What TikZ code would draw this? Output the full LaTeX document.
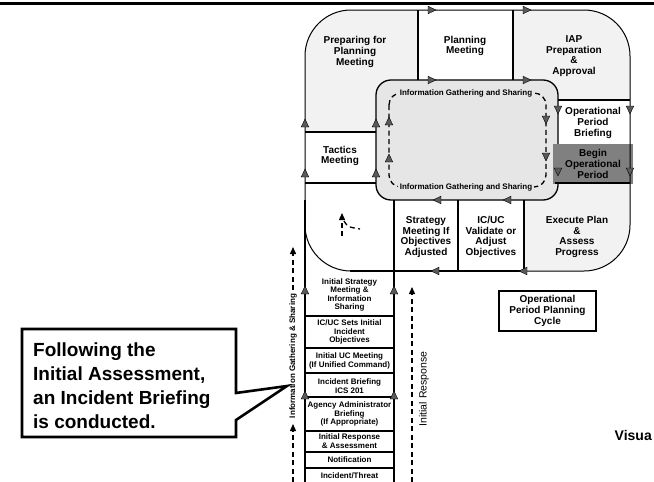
\documentclass[tikz,border=0pt]{standalone}
\usepackage{fontspec}
\setmainfont{Liberation Sans}
\usetikzlibrary{arrows.meta}
\definecolor{outerfill}{HTML}{F2F2F2}
\definecolor{innerfill}{HTML}{E6E6E6}
\definecolor{darkbox}{HTML}{808080}
\definecolor{trifill}{HTML}{5A5A5A}
\begin{document}
\begin{tikzpicture}[x=1pt,y=-1pt,
  lbl/.style={font=\fontsize{10}{10.8}\selectfont\bfseries, align=center, inner sep=0pt},
  sm/.style={font=\fontsize{8}{8.6}\selectfont\bfseries, align=center, inner sep=0pt},
  igs/.style={font=\fontsize{8}{9}\selectfont\bfseries, inner sep=1.3pt, fill=innerfill},
  boxline/.style={line width=1.5pt, draw=black},
  dline/.style={line width=1.3pt, dash pattern=on 5pt off 3.5pt},
  darrow/.style={dline, -{Triangle[length=7pt,width=6pt]}},
  tri/.pic={\filldraw[fill=trifill,draw=black,line width=0.4pt] (-4,-3.8) -- (4,0) -- (-4,3.8) -- cycle;}
]
\useasboundingbox (0,0) rectangle (654,482);
\draw[line width=3.5pt] (0,3.3) -- (654,3.3);

% fills of the cycle
\begin{scope}
  \clip[rounded corners=46pt] (305,10) rectangle (630,271);
  \fill[outerfill] (300,5) rectangle (640,280);
  \fill[white] (418,10) rectangle (513,80);
  \fill[white] (305,132) rectangle (376,183);
  \fill[white] (558,100) rectangle (630,145);
  \fill[white] (305,183) rectangle (524,271);
\end{scope}
\draw[line width=1.3pt, fill=innerfill, rounded corners=15pt] (376,80) rectangle (558,200);
\fill[darkbox] (553,144) rectangle (633,184);

% box lines
\draw[boxline] (418,10) -- (418,80);
\draw[boxline] (513,10) -- (513,80);
\draw[boxline] (558,100) -- (630,100);
\draw[boxline] (305,132) -- (376,132);
\draw[boxline] (305,183) -- (376,183);
\draw[boxline] (555,183) -- (630,183);
\draw[boxline] (394,200) -- (394,482);
\draw[boxline] (458,200) -- (458,271);
\draw[boxline] (524,200) -- (524,271);
\draw[boxline] (305,200) -- (305,482);
\draw[boxline] (350,271) -- (524,271);
\foreach \yy in {316,348,373,397,431,452,468} \draw[boxline] (305,\yy) -- (394,\yy);
\draw[line width=1pt, rounded corners=46pt] (305,10) rectangle (630,271);

% inner dashed loop
\draw[dline, rounded corners=12pt] (389,93) rectangle (546,187);
\node[igs] (igstop) at (466,93) {Information Gathering and Sharing};
\node[igs] (igsbot) at (466,187) {Information Gathering and Sharing};

% flow triangles
\foreach \p in {(432,10),(527,10),(432,80),(527,80)} \pic at \p {tri};
\foreach \p in {(630,110),(630,172),(558,110),(558,172),(546,120),(546,157)} \pic[rotate=-90] at \p {tri};
\foreach \p in {(305,123),(305,173),(376,123),(376,173),(389,121),(389,158),(305,290),(394,290),(305,395),(394,395)} \pic[rotate=90] at \p {tri};
\foreach \p in {(437,200),(507,200),(435,271),(523,271)} \pic[rotate=180] at \p {tri};

% labels of the cycle
\node[lbl] (prep) at (355,52) {Preparing for\\Planning\\Meeting};
\node[lbl] (plan) at (465,46) {Planning\\Meeting};
\node[lbl] (iap) at (574,56) {IAP\\Preparation\\\&\\Approval};
\node[lbl] (opbrief) at (593,123) {Operational\\Period\\Briefing};
\node[lbl] (beginop) at (593,164) {Begin\\Operational\\Period};
\node[lbl] (tactics) at (340,156) {Tactics\\Meeting};
\node[lbl] (strat) at (426,237) {Strategy\\Meeting If\\Objectives\\Adjusted};
\node[lbl] (icuc) at (491,237) {IC/UC\\Validate or\\Adjust\\Objectives};
\node[lbl] (exec) at (577,237) {Execute Plan\\\&\\Assess\\Progress};

% lower-left quadrant marks
\coordinate (qa) at (342,236);
\coordinate (qb) at (342,213);
\draw[darrow] (qa) -- (qb);
\coordinate (qc) at (344,221);
\coordinate (qd) at (360,229);
\draw[line width=1.3pt, dash pattern=on 5pt off 3.5pt] (qc) .. controls (348,227) .. (qd);

% bottom column
\node[sm] (b1) at (349.5,295) {Initial Strategy\\Meeting \&\\Information\\Sharing};
\node[sm] (b2) at (349.5,332) {IC/UC Sets Initial\\Incident\\Objectives};
\node[sm] (b3) at (349.5,361) {Initial UC Meeting\\(If Unified Command)};
\node[sm] (b4) at (349.5,386) {Incident Briefing\\ICS 201};
\node[sm] (b5) at (349.5,414) {Agency Administrator\\Briefing\\(If Appropriate)};
\node[sm] (b6) at (349.5,441) {Initial Response\\\& Assessment};
\node[sm] (b7) at (349.5,459.5) {Notification};
\node[sm] (b8) at (349.5,475.5) {Incident/Threat};

% side dashed arrows
\node[font=\fontsize{8}{9}\selectfont\bfseries, rotate=90, inner sep=0pt] (igsside) at (293,356) {Information Gathering \& Sharing};
\coordinate (sa) at (293,482);
\coordinate (sb) at (293,424);
\coordinate (sc) at (293,290);
\coordinate (sd) at (293,247);
\draw[darrow] (sa) -- (sb);
\draw[darrow] (sc) -- (sd);
\coordinate (ra) at (412,482);
\coordinate (rb) at (412,287);
\draw[darrow] (ra) -- (rb);
\node[font=\fontsize{10.5}{12}\selectfont, rotate=90, inner sep=0pt] (initresp) at (424,389) {Initial Response};

% callout
\draw[line width=2.6pt, fill=white] (22,329) -- (236,329) -- (236,393) -- (287,386) -- (236,420) -- (236,437) -- (22,437) -- cycle;
\node[anchor=north west, align=left, inner sep=0pt, font=\fontsize{19}{24}\selectfont\bfseries] (callouttext) at (33,343) {Following the\\Initial Assessment,\\an Incident Briefing\\is conducted.};

% planning cycle label
\node[draw, line width=1.2pt, minimum width=97pt, minimum height=40pt, lbl] (cycle) at (547.5,311) {Operational\\Period Planning\\Cycle};
\node[anchor=east, inner sep=0pt, font=\fontsize{14}{16}\selectfont\bfseries] (visua) at (652,435) {Visua};
\end{tikzpicture}
\end{document}
